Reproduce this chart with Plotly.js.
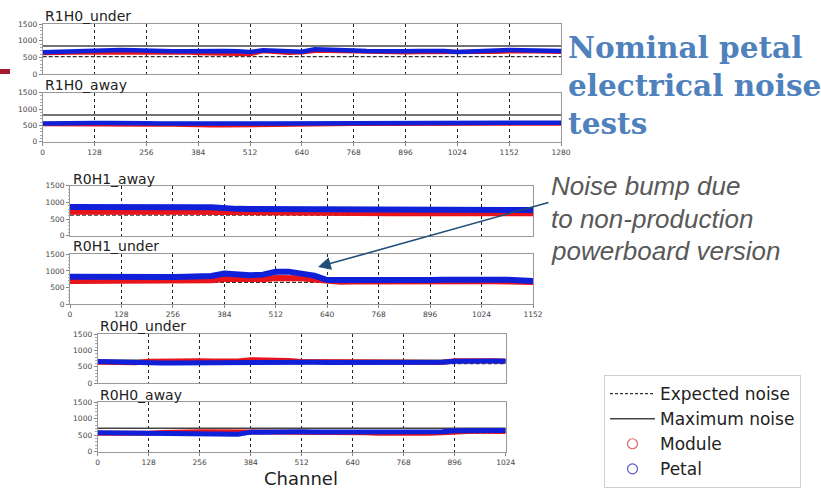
<!DOCTYPE html>
<html>
<head>
<meta charset="utf-8">
<script src="https://cdn.plot.ly/plotly-3.0.1.min.js"></script>
<style>html,body{margin:0;padding:0;background:#fff;}#plot{width:821px;height:488px;}</style>
</head>
<body>
<div id="plot"></div>
<script>
// ---- data ----
const chan1280 = [0,32,64,96,128,160,192,224,256,288,320,352,384,416,448,480,512,544,576,608,640,672,704,736,768,800,832,864,896,928,960,992,1024,1056,1088,1120,1152,1184,1216,1248,1280];
const chan1152 = [0,32,64,96,128,160,192,224,256,288,320,352,384,416,448,480,512,544,576,608,640,672,704,736,768,800,832,864,896,928,960,992,1024,1056,1088,1120,1152];
const chan1024 = [0,32,64,96,128,160,192,224,256,288,320,352,384,416,448,480,512,544,576,608,640,672,704,736,768,800,832,864,896,928,960,992,1024];

const ticks1280 = [0,128,256,384,512,640,768,896,1024,1152,1280];
const ticks1152 = [0,128,256,384,512,640,768,896,1024,1152];
const ticks1024 = [0,128,256,384,512,640,768,896,1024];
const yTicks = [0,500,1000,1500];

const panelNames = ["R1H0_under","R1H0_away","R0H1_away","R0H1_under","R0H0_under","R0H0_away"];

// Petal (blue) and Module (red) noise
const petal_R1H0_under  = [650,665,670,670,700,705,720,715,695,685,680,685,695,690,690,680,660,715,690,665,670,745,740,725,705,690,680,680,680,690,695,690,660,680,690,700,720,715,710,700,690];
const module_R1H0_under = [630,640,640,645,650,645,650,655,650,650,650,650,630,625,620,615,600,690,665,640,650,700,700,690,670,660,655,650,655,660,660,660,640,650,660,665,680,690,680,675,665];
const petal_R1H0_away   = [560,555,550,550,570,575,580,580,565,560,555,555,555,550,550,545,545,555,560,560,580,590,590,585,580,575,575,580,575,575,580,580,570,575,580,585,590,590,585,585,580];
const module_R1H0_away  = [540,535,530,530,520,515,520,520,530,535,535,535,510,505,500,505,520,530,535,540,560,560,555,550,550,550,550,555,555,550,555,555,550,555,555,560,565,565,560,560,555];
const petal_R0H1_away   = [860,855,850,850,845,840,840,835,840,850,850,855,815,805,800,800,795,790,790,785,780,780,775,775,770,770,770,770,770,770,770,770,770,770,775,775,770];
const module_R0H1_away  = [720,715,715,710,705,705,700,700,715,720,720,720,700,690,690,690,685,685,680,680,680,675,675,675,675,675,670,670,670,670,670,670,670,670,675,675,670];
const petal_R0H1_under  = [830,825,825,830,835,835,830,825,820,830,840,850,920,880,870,890,975,980,940,860,730,725,730,735,740,745,740,735,730,735,745,750,745,740,735,720,700];
const module_R0H1_under = [700,700,695,700,705,705,700,700,700,705,715,720,760,750,745,755,790,800,780,740,690,680,685,690,690,695,690,690,685,690,695,700,695,690,690,680,670];
const petal_R0H0_under  = [660,645,640,640,625,620,615,620,620,615,615,610,640,640,645,640,640,640,635,635,640,640,630,625,625,625,635,640,670,680,680,675,670];
const module_R0H0_under = [640,630,625,625,670,680,680,685,685,680,680,680,720,720,715,690,665,660,655,650,650,650,640,620,615,615,620,630,685,695,690,685,675];
const petal_R0H0_away   = [570,565,560,560,555,550,545,545,540,540,535,530,590,600,605,600,600,595,595,590,590,590,580,575,575,580,590,600,630,645,645,640,640];
const module_R0H0_away  = [560,555,555,555,560,580,600,605,605,600,600,595,600,595,590,585,585,580,580,575,575,575,555,550,550,555,560,570,600,610,615,610,610];

const expectedNoise = [520,555,620,660,600,560];
const maximumNoise  = [840,820,780,720,700,706];
const nChannels     = [1280,1280,1152,1152,1024,1024];

// ---- layout geometry (pixels) ----
const W = 821, H = 488;
const panelBoxes = [
  {x0:42.7, x1:561,   y0:24,    y1:74},
  {x0:42.7, x1:561,   y0:92.7,  y1:141.7},
  {x0:70,   x1:533,   y0:185.7, y1:235.7},
  {x0:70,   x1:533,   y0:254.3, y1:304.3},
  {x0:97.7, x1:505.7, y0:334,   y1:383.3},
  {x0:97.7, x1:505.7, y0:402,   y1:451.7}
];
const titlePos = [[43,16],[43,84.6],[71,178.6],[71,246.3],[98.3,326],[98.3,394.6]];

const chans = [chan1280,chan1280,chan1152,chan1152,chan1024,chan1024];
const tickSets = [ticks1280,ticks1280,ticks1152,ticks1152,ticks1024,ticks1024];
const petals = [petal_R1H0_under,petal_R1H0_away,petal_R0H1_away,petal_R0H1_under,petal_R0H0_under,petal_R0H0_away];
const modules = [module_R1H0_under,module_R1H0_away,module_R0H1_away,module_R0H1_under,module_R0H0_under,module_R0H0_away];
const bandWidth = [4.5,4.5,6,6,5,5];

const traces = [];
const layout = {
  width: W, height: H,
  margin: {l:0,r:0,t:0,b:0},
  paper_bgcolor: '#fff', plot_bgcolor: '#fff',
  font: {family: 'DejaVu Sans', color: '#333'},
  showlegend: true,
  legend: {
    x: 604/W, y: 1-375/H, xanchor: 'left', yanchor: 'top',
    bgcolor: '#fff', bordercolor: '#d0d0d0', borderwidth: 1,
    font: {family: 'DejaVu Sans', size: 17, color: '#222'},
    itemwidth: 45, tracegroupgap: 0
  },
  annotations: [], shapes: []
};

function px2x(p){return p/W;}
function px2y(p){return 1-p/H;}

for (let i = 0; i < 6; i++) {
  const k = i+1;
  const xa = 'x'+(k===1?'':k), ya = 'y'+(k===1?'':k);
  const xName = 'xaxis'+(k===1?'':k), yName = 'yaxis'+(k===1?'':k);
  const b = panelBoxes[i];
  const N = nChannels[i];
  const labeled = (i%2===1);
  layout[xName] = {
    domain: [px2x(b.x0), px2x(b.x1)], anchor: ya, range: [0,N],
    tickvals: tickSets[i], ticktext: tickSets[i].map(String),
    showticklabels: labeled, ticks: labeled ? 'outside' : '', ticklen: 3, tickcolor: '#888',
    tickfont: {size: 7.5, color: '#444'},
    showgrid: true, gridcolor: '#222', griddash: 'dot', gridwidth: 1,
    showline: true, mirror: true, linecolor: '#999', linewidth: 1,
    zeroline: false, fixedrange: true
  };
  layout[yName] = {
    domain: [px2y(b.y1), px2y(b.y0)], anchor: xa, range: [0,1500],
    tickvals: yTicks, ticktext: yTicks.map(String),
    ticks: 'outside', ticklen: 3, tickcolor: '#888',
    minor: {ticks: 'outside', ticklen: 1.5, dtick: 100, tickcolor: '#aaa', showgrid: false},
    tickfont: {size: 7.5, color: '#444'},
    showgrid: false, showline: true, mirror: true, linecolor: '#999', linewidth: 1,
    zeroline: false, fixedrange: true
  };
  // maximum noise
  traces.push({x:[0,N], y:[maximumNoise[i],maximumNoise[i]], xaxis:xa, yaxis:ya, mode:'lines',
    line:{color:'#444', width:1.5}, showlegend:false, hoverinfo:'skip'});
  // expected noise
  traces.push({x:[0,N], y:[expectedNoise[i],expectedNoise[i]], xaxis:xa, yaxis:ya, mode:'lines',
    line:{color:'#333', width:1.3, dash:'4px,2px'}, showlegend:false, hoverinfo:'skip'});
  // module (red)
  traces.push({x:chans[i], y:modules[i], xaxis:xa, yaxis:ya, mode:'lines',
    line:{color:'#e8141b', width:bandWidth[i]}, showlegend:false});
  // petal (blue)
  traces.push({x:chans[i], y:petals[i], xaxis:xa, yaxis:ya, mode:'lines',
    line:{color:'#1020d8', width:bandWidth[i]}, showlegend:false});

  layout.annotations.push({xref:'paper', yref:'paper', x:px2x(titlePos[i][0]), y:px2y(titlePos[i][1]),
    xanchor:'left', yanchor:'middle', text: panelNames[i], showarrow:false,
    font:{family:'DejaVu Sans', size:14, color:'#222'}});
}

// legend entries
traces.push({x:[null], y:[null], mode:'lines', name:'Expected noise', line:{color:'#333', width:1.3, dash:'3px,2px'}});
traces.push({x:[null], y:[null], mode:'lines', name:'Maximum noise', line:{color:'#444', width:1.5}});
traces.push({x:[null], y:[null], mode:'markers', name:'Module', marker:{symbol:'circle-open', size:10, color:'#e06666', line:{width:1.2}}});
traces.push({x:[null], y:[null], mode:'markers', name:'Petal', marker:{symbol:'circle-open', size:10, color:'#5a5ac8', line:{width:1.2}}});

// x axis title
layout.annotations.push({xref:'paper', yref:'paper', x:px2x(301), y:px2y(478.5), xanchor:'center', yanchor:'middle',
  text:'Channel', showarrow:false, font:{family:'DejaVu Sans', size:18, color:'#222'}});

// slide title
const slideTitle = ['Nominal petal','electrical noise','tests'];
const slideTitleY = [47.3, 85.7, 124];
slideTitle.forEach((t,j)=>{
  layout.annotations.push({xref:'paper', yref:'paper', x:px2x(566), y:px2y(slideTitleY[j]), xanchor:'left', yanchor:'middle',
    text:'<b>'+t+'</b>', showarrow:false, font:{family:'DejaVu Serif', size:29.5, color:'#4F81BD'}});
});

// note text
const note = ['Noise bump due','to non-production','powerboard version'];
const noteY = [186, 218.5, 251];
note.forEach((t,j)=>{
  layout.annotations.push({xref:'paper', yref:'paper', x:px2x(549), y:px2y(noteY[j]), xanchor:'left', yanchor:'middle',
    text:'<i>'+t+'</i>', showarrow:false, font:{family:'Liberation Sans', size:26, color:'#595959'}});
});

// arrow
layout.annotations.push({xref:'paper', yref:'paper', x:px2x(318), y:px2y(267), ax:232, ay:-65,
  axref:'pixel', ayref:'pixel', text:'', showarrow:true, arrowhead:2, arrowsize:1.6, arrowwidth:1.6,
  arrowcolor:'#1F4E79', standoff:0});

// red slide marker
layout.shapes.push({type:'rect', xref:'paper', yref:'paper', x0:0, x1:px2x(10), y0:px2y(74), y1:px2y(69),
  fillcolor:'#A6192E', line:{width:0}});

Plotly.newPlot('plot', traces, layout, {staticPlot:true});
</script>
</body>
</html>
